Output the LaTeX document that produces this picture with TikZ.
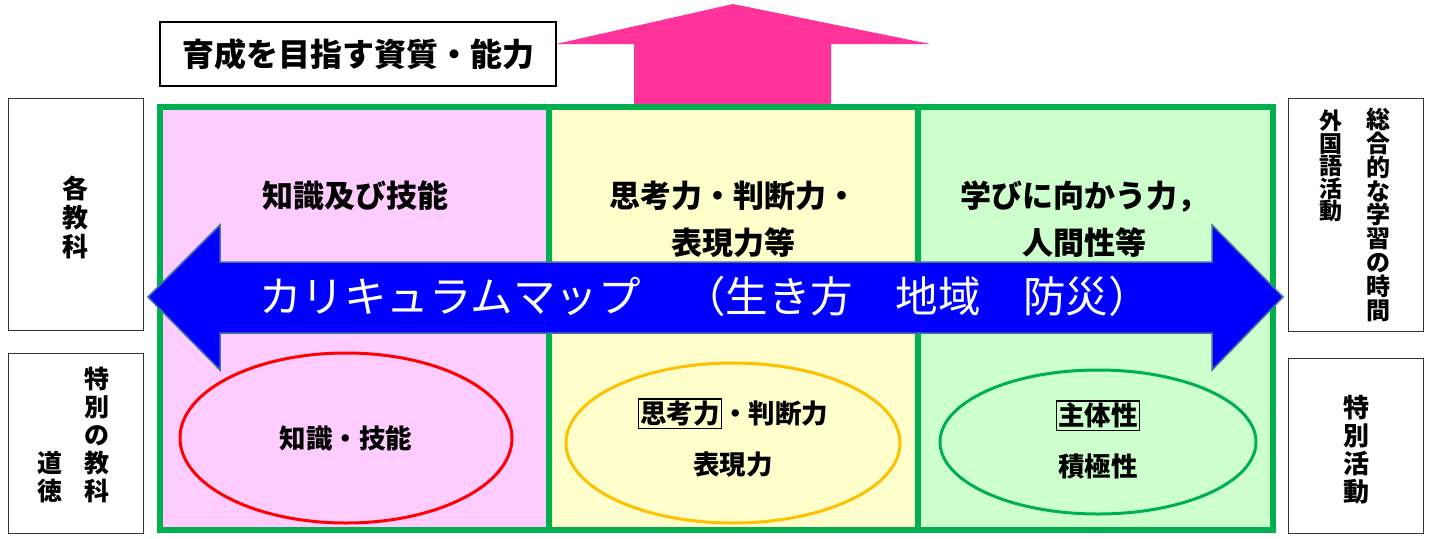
\documentclass[tikz,border=0pt]{standalone}
\usepackage{fontspec}
\newfontfamily\jp{Noto Sans CJK JP}
\definecolor{momo}{RGB}{255,204,255}
\definecolor{kiiro}{RGB}{255,255,204}
\definecolor{wakaba}{RGB}{204,255,204}
\definecolor{midori}{RGB}{0,176,80}
\definecolor{pinku}{RGB}{255,51,153}
\definecolor{daidai}{RGB}{255,192,0}
\definecolor{aofuchi}{RGB}{65,113,156}
\newcommand\waku[1]{{\setlength{\fboxsep}{1.5pt}\setlength{\fboxrule}{1.2pt}\fbox{#1}}}
\tikzset{
  hashira/.style={draw=midori, line width=6.5pt},
  sokumen/.style={draw=black!80, line width=1pt},
  tate/.style={align=center, inner sep=0pt, font=\jp\bfseries\fontsize{25}{28}\selectfont},
  midashi/.style={align=center, inner sep=0pt, font=\jp\bfseries\fontsize{31}{47}\selectfont},
  daen/.style={ellipse, line width=3pt, align=center},
  naka/.style={align=center, inner sep=0pt, font=\jp\bfseries\fontsize{26.5}{51}\selectfont}
}
\usetikzlibrary{shapes.geometric}
\begin{document}
\begin{tikzpicture}[x=1pt, y=-1pt]
  \useasboundingbox (0,0) rectangle (1434,538);

  % 上向きの矢印
  \fill[pinku] (634,106) -- (634,44) -- (556,44) -- (733,4)
    -- (930,44) -- (831,44) -- (831,106) -- cycle;
  \node[draw, line width=2pt, fill=white, minimum width=396pt, minimum height=64pt,
        font=\jp\bfseries\fontsize{32}{32}\selectfont] (shishitsu) at (358,54)
    {育成を目指す資質・能力};

  % 三つの柱
  \filldraw[hashira, fill=momo] (160,107) rectangle (549,530);
  \filldraw[hashira, fill=kiiro] (549,107) rectangle (918,530);
  \filldraw[hashira, fill=wakaba] (918,107) rectangle (1273,530);

  \node[midashi] (chishiki) at (355,196) {知識及び技能};
  \node[midashi] (shiko) at (733,219) {思考力・判断力・\\表現力等};
  \node[midashi] (manabi) at (1084,219) {学びに向かう力，\\人間性等};

  % 横の矢印
  \filldraw[fill=blue, draw=aofuchi, line width=1.5pt]
    (148,297) -- (220,225) -- (220,262) -- (1212,262) -- (1212,225)
    -- (1283,297) -- (1212,370) -- (1212,333) -- (220,333) -- (220,370) -- cycle;
  \node[text=white, inner sep=0pt, font=\jp\fontsize{42.5}{42.5}\selectfont] (map) at (705,296)
    {カリキュラムマップ　（生き方　地域　防災）};

  % 楕円
  \node[daen, draw=red, minimum width=332pt, minimum height=170pt] (e1) at (346,438) {};
  \node[daen, draw=daidai, minimum width=334pt, minimum height=160pt] (e2) at (733,443) {};
  \node[daen, draw=midori, minimum width=316pt, minimum height=144pt] (e3) at (1098,442) {};
  \node[naka] (t1) at (346,438) {知識・技能};
  \node[naka] (t2) at (733,438) {\waku{思考力}・判断力\\表現力};
  \node[naka] (t3) at (1098,440) {\waku{主体性}\\積極性};

  % 左右の枠
  \draw[sokumen] (8,98) rectangle (143,330);
  \draw[sokumen] (8,353) rectangle (143,533);
  \draw[sokumen] (1288,98) rectangle (1423,331);
  \draw[sokumen] (1288,358) rectangle (1423,533);

  \node[tate, font=\jp\bfseries\fontsize{26}{29}\selectfont] (kakukyoka) at (75,217) {各\\教\\科};
  \node[tate, anchor=south] (tokubetsu) at (97,503) {特\\別\\の\\教\\科};
  \node[tate, anchor=south] (dotoku) at (50,503) {道\\徳};
  \node[tate, anchor=north, font=\jp\bfseries\fontsize{24}{23.8}\selectfont] (sogo) at (1378,108)
    {総\\合\\的\\な\\学\\習\\の\\時\\間};
  \node[tate, anchor=north, font=\jp\bfseries\fontsize{23}{22.4}\selectfont] (gaikokugo) at (1331,110)
    {外\\国\\語\\活\\動};
  \node[tate, font=\jp\bfseries\fontsize{26}{28}\selectfont] (tokkatsu) at (1356,450) {特\\別\\活\\動};
\end{tikzpicture}
\end{document}
